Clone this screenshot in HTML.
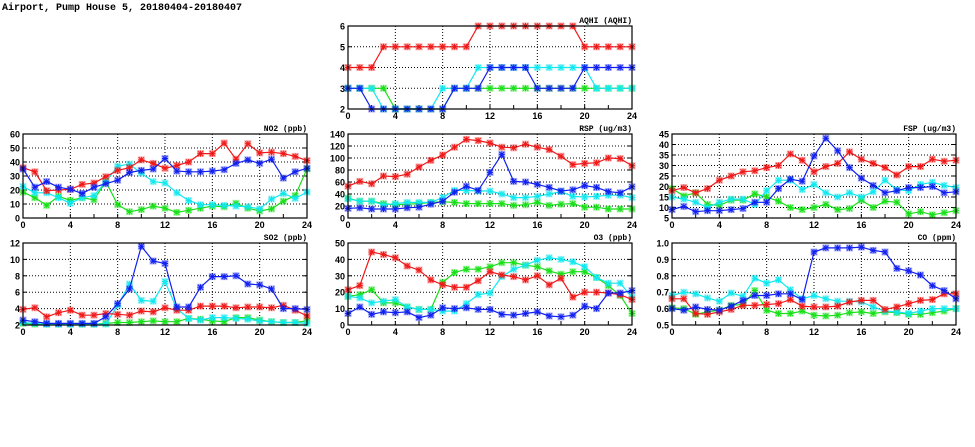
<!DOCTYPE html>
<html><head><meta charset="utf-8"><style>
html,body{margin:0;padding:0;background:#fff;}
svg{display:block;}
text{font-family:"Liberation Sans",sans-serif;font-weight:bold;font-size:9px;fill:#000;}
text.ttl{font-family:"Liberation Mono",monospace;font-size:10px;}
text.ptl{font-family:"Liberation Mono",monospace;font-size:8px;}
</style></head><body>
<svg id="chart" width="975" height="447" viewBox="0 0 975 447" xmlns="http://www.w3.org/2000/svg">
<text class="ttl" x="2" y="10">Airport, Pump House 5, 20180404-20180407</text>
</svg>
<script>
const hours = [0,1,2,3,4,5,6,7,8,9,10,11,12,13,14,15,16,17,18,19,20,21,22,23,24];
const xTicks = [0,4,8,12,16,20,24];
const seriesNames = ["green","cyan","red","blue"];
const seriesColors = {red:"#f01818",cyan:"#10e8f0",green:"#18e018",blue:"#1020f0"};

const aqhiRed   = [4,4,4,5,5,5,5,5,5,5,5,6,6,6,6,6,6,6,6,6,5,5,5,5,5];
const aqhiCyan  = [3,3,3,2,2,2,2,2,3,3,3,4,4,4,4,4,4,4,4,4,4,3,3,3,3];
const aqhiGreen = [3,3,3,3,2,2,2,2,2,3,3,3,3,3,3,3,3,3,3,3,3,3,3,3,3];
const aqhiBlue  = [3,3,2,2,2,2,2,2,2,3,3,3,4,4,4,4,3,3,3,3,4,4,4,4,4];

const no2Red   = [35.9,33,19.5,20,20.5,24,25,29.5,34,36,41.5,39,35.5,37.5,40,46,46,53.5,42,53,46.5,47,46,44,41];
const no2Cyan  = [22.5,18,18,14.5,10.5,14.5,16,26,37,38.5,32,26,25,18,12.5,9.5,9.5,9,8.5,8,6.5,13.5,17.5,14,18.5];
const no2Green = [18.5,14.5,9,15.5,12.5,14.5,13,26,9.5,4.5,6,8.5,7,4,5.5,7,8.5,8,10.5,7,5,6.5,12,16,35];
const no2Blue  = [35,22,26,22,20.5,17.5,22,24.5,27,32.5,34,35,42.5,33.5,33,33,33.5,34.5,39,41.5,39,42,28.5,33,35.5];

const rspRed   = [53,61,57,70,69,73,85,96,105,118,131,129,125,118,117,123,118,114,103,89,91,92,100,99,87];
const rspCyan  = [32,28,28,22,24,26,26,26,34,46,46,45,45,40,34,34,36,40,44,36,35,36,38,38,34];
const rspGreen = [33,28,28,24,22,23,24,26,27,26,24,24,24,24,21,22,26,21,23,24,18,18,15,15,15];
const rspBlue  = [16,17,15,15,15,17,18,23,28,43,53,46,76,106,61,60,56,51,45,47,54,51,44,42,52];

const fspRed   = [18,19.5,17,19,23,25,27,27.5,29,30,35.5,32.5,27,29.5,31,36.5,33,31,29,25.5,29.5,29.5,33,32,32.5];
const fspCyan  = [15,14,12.5,10,12.5,14,14,11.5,18,23,23,18.5,21,17,15,17,15,17.5,23,18.5,18,21,22,20.5,19.5];
const fspGreen = [19,15.5,17,11.5,11,13.5,13.5,16.5,15,13,10,9,10,11.5,9,9.5,13.5,10,13,12.5,7,8,6.5,7.5,8.5];
const fspBlue  = [9,10.5,8,8.5,8.5,9,9.5,12.5,12.5,19,23.5,22.5,34.5,43,37,29,24,20.5,17,18,19.5,19.5,20,17,17.5];

const so2Red   = [3.9,4.1,3,3.5,3.8,3.2,3.2,3.4,3.3,3.2,3.7,3.6,4.1,3.8,3.8,4.3,4.3,4.3,4.1,4.2,4.2,4.1,4.4,3.8,3.1];
const so2Cyan  = [2.3,2.2,2.1,2.1,2.1,2.1,2.1,2.1,4.4,7,5,4.9,7.3,4,2.8,2.6,2.9,2.9,2.8,2.7,2.5,2.4,2.3,2.3,2.2];
const so2Green = [2.2,2.1,2.1,2.1,2.1,2.1,2.1,2.2,2.3,2.3,2.4,2.5,2.4,2.4,2.8,2.7,2.5,2.4,2.9,2.9,2.6,2.4,2.3,2.3,2.5];
const so2Blue  = [2.6,2.4,2.2,2.2,2.2,2.2,2.2,3,4.6,6.4,11.6,9.8,9.5,4.2,4.2,6.6,7.9,7.9,8,7,6.9,6.4,4,4,3.9];

const o3Red   = [21.5,24,44.5,43,41,36,33.5,27.5,24.5,23,23,27,32.5,30.5,29.5,27.5,30,24.5,28.5,17,20,20,19.5,18.5,15.5];
const o3Cyan  = [17.5,16.5,13.5,14.5,15.5,11,9.5,9.5,8.5,8.5,13,18.5,19.5,29.5,34,36.5,39.5,41,40,38.5,35.5,29,25.5,25.5,17];
const o3Green = [17.5,18.5,21.5,13.5,13.5,11,9.5,9.5,26,32,34,34,35.5,38,38,36.5,35.5,33,31,32.5,32.5,29,24,18,7];
const o3Blue  = [7,11,6.5,8,7.5,8,4.5,6,10.5,10,10.5,9.5,9.5,6.5,6,7,8,5.5,5,6,11.5,10,19.5,19.5,21];

const coRed   = [.66,.66,.57,.565,.58,.595,.62,.62,.625,.63,.655,.615,.61,.61,.615,.64,.65,.65,.595,.61,.63,.65,.655,.69,.69];
const coCyan  = [.68,.70,.69,.665,.645,.695,.675,.785,.755,.775,.715,.66,.68,.66,.645,.645,.64,.61,.585,.58,.57,.585,.60,.60,.60];
const coGreen = [.605,.60,.565,.58,.59,.62,.625,.71,.59,.57,.57,.585,.56,.555,.56,.575,.58,.57,.58,.575,.565,.565,.575,.585,.60];
const coBlue  = [.60,.59,.61,.595,.59,.615,.65,.68,.68,.69,.69,.655,.945,.97,.97,.97,.975,.955,.945,.845,.83,.805,.74,.71,.66];

const aqhiTicks = [2,3,4,5,6];
const no2Ticks = [0,10,20,30,40,50,60];
const rspTicks = [0,20,40,60,80,100,120,140];
const fspTicks = [5,10,15,20,25,30,35,40,45];
const so2Ticks = [2,4,6,8,10,12];
const o3Ticks = [0,10,20,30,40,50];
const coTicks = [0.5,0.6,0.7,0.8,0.9,1.0];

const panels = [
 {id:"aqhi",title:"AQHI (AQHI)",L:348,R:632,T:26,B:109,ticks:aqhiTicks,dec:0,s:{red:aqhiRed,cyan:aqhiCyan,green:aqhiGreen,blue:aqhiBlue}},
 {id:"no2",title:"NO2 (ppb)",L:23,R:307,T:134,B:218,ticks:no2Ticks,dec:0,s:{red:no2Red,cyan:no2Cyan,green:no2Green,blue:no2Blue}},
 {id:"rsp",title:"RSP (ug/m3)",L:348,R:632,T:134,B:218,ticks:rspTicks,dec:0,s:{red:rspRed,cyan:rspCyan,green:rspGreen,blue:rspBlue}},
 {id:"fsp",title:"FSP (ug/m3)",L:672,R:956,T:134,B:218,ticks:fspTicks,dec:0,s:{red:fspRed,cyan:fspCyan,green:fspGreen,blue:fspBlue}},
 {id:"so2",title:"SO2 (ppb)",L:23,R:307,T:243,B:325,ticks:so2Ticks,dec:0,s:{red:so2Red,cyan:so2Cyan,green:so2Green,blue:so2Blue}},
 {id:"o3",title:"O3 (ppb)",L:348,R:632,T:243,B:325,ticks:o3Ticks,dec:0,s:{red:o3Red,cyan:o3Cyan,green:o3Green,blue:o3Blue}},
 {id:"co",title:"CO (ppm)",L:672,R:956,T:243,B:325,ticks:coTicks,dec:1,s:{red:coRed,cyan:coCyan,green:coGreen,blue:coBlue}}
];

const NS="http://www.w3.org/2000/svg";
const svg=document.getElementById("chart");
function mk(tag,attrs,parent){const e=document.createElementNS(NS,tag);for(const k in attrs)e.setAttribute(k,attrs[k]);(parent||svg).appendChild(e);return e;}

panels.forEach(p=>{
  const g=mk("g",{});
  
  
  const ymin=p.ticks[0], ymax=p.ticks[p.ticks.length-1];
  const xs=h=>p.L+(h-0)/24*(p.R-p.L);
  const ys=v=>p.B-(v-ymin)/(ymax-ymin)*(p.B-p.T);
  p.ticks.forEach((t,i)=>{
    const y=ys(t);
    if(i>0&&i<p.ticks.length-1){
      const gl=mk("line",{x1:p.L,x2:p.R,y1:y,y2:y,stroke:"#000","stroke-width":1,"stroke-dasharray":"1,2"},g);
      
      
    }
    mk("line",{x1:p.L,x2:p.L+4,y1:y,y2:y,stroke:"#000"},g);
    mk("line",{x1:p.R-4,x2:p.R,y1:y,y2:y,stroke:"#000"},g);
    const tl=mk("text",{x:p.L-3,y:y+3.5,"text-anchor":"end"},g);
    tl.textContent=t.toFixed(p.dec);
    
    
  });
  xTicks.forEach((t,i)=>{
    const x=xs(t);
    if(i>0&&i<xTicks.length-1){
      const gl=mk("line",{x1:x,x2:x,y1:p.T,y2:p.B,stroke:"#000","stroke-width":1,"stroke-dasharray":"1,2"},g);
      
      
    }
    const tl=mk("text",{x:x,y:p.B+10,"text-anchor":"middle"},g);
    tl.textContent=t;
    
    
  });
  hours.forEach(h=>{if(h%2===0){const x=xs(h);mk("line",{x1:x,x2:x,y1:p.B,y2:p.B-4,stroke:"#000"},g);}});
  seriesNames.forEach(sn=>{
    const data=p.s[sn], c=seriesColors[sn];
    const pts=data.map((v,i)=>xs(hours[i]).toFixed(1)+","+ys(v).toFixed(1)).join(" ");
    const pl=mk("polyline",{points:pts,fill:"none",stroke:c,"stroke-width":1.2},g);
    
    
    data.forEach((v,i)=>{
      const x=xs(hours[i]), y=ys(v);
      const m=mk("g",{},g);
      
      
      mk("rect",{x:x-3.5,y:y-3.5,width:7,height:7,fill:c,"fill-opacity":0.35},m);
      mk("path",{d:`M${x-3},${y}H${x+3}M${x},${y-3}V${y+3}M${x-2.5},${y-2.5}L${x+2.5},${y+2.5}M${x-2.5},${y+2.5}L${x+2.5},${y-2.5}`,stroke:c,"stroke-width":1},m);
    });
  });
  const fr=mk("rect",{x:p.L,y:p.T,width:p.R-p.L,height:p.B-p.T,fill:"none",stroke:"#000","stroke-width":1.2},g);
  
  
  const tt=mk("text",{x:p.R,y:p.T-3,"text-anchor":"end","class":"ptl"},g);
  tt.textContent=p.title;
  
  
});
</script>
</body></html>
